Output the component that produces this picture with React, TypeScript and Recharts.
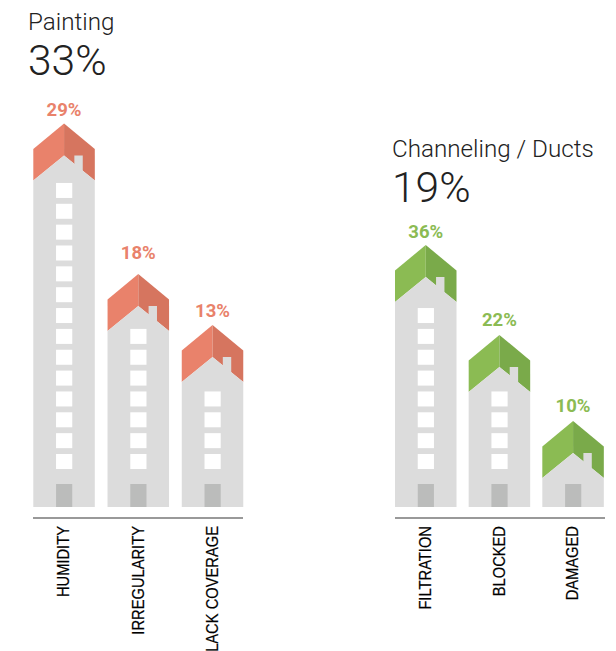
import { BarChart, Bar, XAxis, YAxis, LabelList } from 'recharts';

// building heights are not to scale with the percentages, so they are read off the picture
const paintingCategories = ['HUMIDITY', 'IRREGULARITY', 'LACK COVERAGE'];
const paintingPercents = [29, 18, 13];
const paintingHeights = [383.5, 233, 182];
const paintingFloors = [14, 7, 4];

const channelingCategories = ['FILTRATION', 'BLOCKED', 'DAMAGED'];
const channelingPercents = [36, 22, 10];
const channelingHeights = [262, 172, 86];
const channelingFloors = [8, 4, 0];

const red = { light: '#e9826b', dark: '#d6755f' };
const green = { light: '#8bbb53', dark: '#7aaa4a' };

const buildRows = (categories: string[], percents: number[], heights: number[], floors: number[]) =>
  categories.map((name, i) => ({ name, percent: percents[i], height: heights[i], floors: floors[i] }));

function House(props: any) {
  const { x, y, width, height, payload, colors } = props;
  const cx = x + width / 2;
  const right = x + width;
  const bottom = y + height;
  const windows = [];
  for (let i = 0; i < payload.floors; i++) {
    windows.push(<rect key={i} x={cx - 8} y={bottom - 53 - i * 20.85} width={16.2} height={15} fill="#fff" />);
  }
  return (
    <g>
      <polygon points={`${cx},${y} ${x},${y + 25.5} ${x},${y + 57} ${cx},${y + 32}`} fill={colors.light} />
      <polygon points={`${cx},${y} ${right},${y + 25.5} ${right},${y + 57} ${cx},${y + 32}`} fill={colors.dark} />
      <polygon
        points={`${x},${bottom} ${x},${y + 57} ${cx},${y + 32} ${right},${y + 57} ${right},${bottom}`}
        fill="#dcdcdc"
      />
      <rect x={cx + 10.3} y={y + 32} width={8.4} height={18} fill="#dcdcdc" />
      {windows}
      <rect x={cx - 8} y={bottom - 23} width={16.2} height={23} fill="#bbbcbb" />
    </g>
  );
}

function VerticalTick({ x, y, payload }: any) {
  return (
    <text
      transform={`translate(${x + 5},${y}) rotate(-90) scale(0.92,1)`}
      textAnchor="end"
      fontFamily="Liberation Sans"
      fontSize={16}
      fill="#000"
      stroke="#000"
      strokeWidth={0.2}
    >
      {payload.value}
    </text>
  );
}

function Group({ left, title, total, titleTop, rows, colors, plotLeft, padding, labelGaps }: any) {
  const renderLabel = ({ x, y, width, value, index }: any) => (
    <text
      x={x + width / 2}
      y={y - labelGaps[index]}
      textAnchor="middle"
      dominantBaseline="central"
      fill={colors.light}
      fontFamily="Roboto"
      fontWeight={700}
      fontSize={18.5}
    >
      {value}%
    </text>
  );
  return (
    <>
      <div
        style={{
          position: 'absolute',
          left: left,
          top: titleTop,
          fontFamily: 'Roboto',
          fontWeight: 300,
          color: '#222',
          whiteSpace: 'nowrap',
        }}
      >
        <div style={{ fontSize: 24.2, lineHeight: '28px' }}>{title}</div>
        <div style={{ fontSize: 42.5, lineHeight: '50px' }}>{total}</div>
      </div>
      <div style={{ position: 'absolute', left: plotLeft - 33, top: 90 }}>
        <BarChart
          width={280}
          height={561}
          data={rows}
          margin={{ top: 10, right: 37, bottom: 0, left: 33 }}
          barSize={61.5}
        >
          <YAxis hide domain={[-11, 407]} />
          <XAxis
            dataKey="name"
            interval={0}
            height={133}
            padding={padding}
            tickLine={false}
            axisLine={{ stroke: '#999', strokeWidth: 2 }}
            tick={<VerticalTick />}
          />
          <Bar dataKey="height" isAnimationActive={false} shape={<House colors={colors} />}>
            <LabelList dataKey="percent" content={renderLabel} />
          </Bar>
        </BarChart>
      </div>
    </>
  );
}

export default function App() {
  return (
    <div style={{ position: 'absolute', left: 0, top: 0, width: 616, height: 651, overflow: 'hidden' }}>
      <Group
        left={28}
        titleTop={8}
        plotLeft={33}
        padding={{ left: -5.7, right: -7 }}
        labelGaps={[13.5, 21, 14]}
        title="Painting"
        total="33%"
        colors={red}
        rows={buildRows(paintingCategories, paintingPercents, paintingHeights, paintingFloors)}
      />
      <Group
        left={392}
        titleTop={135}
        plotLeft={394.5}
        padding={{ left: -6, right: -5 }}
        labelGaps={[13, 15, 15]}
        title="Channeling / Ducts"
        total="19%"
        colors={green}
        rows={buildRows(channelingCategories, channelingPercents, channelingHeights, channelingFloors)}
      />
    </div>
  );
}
